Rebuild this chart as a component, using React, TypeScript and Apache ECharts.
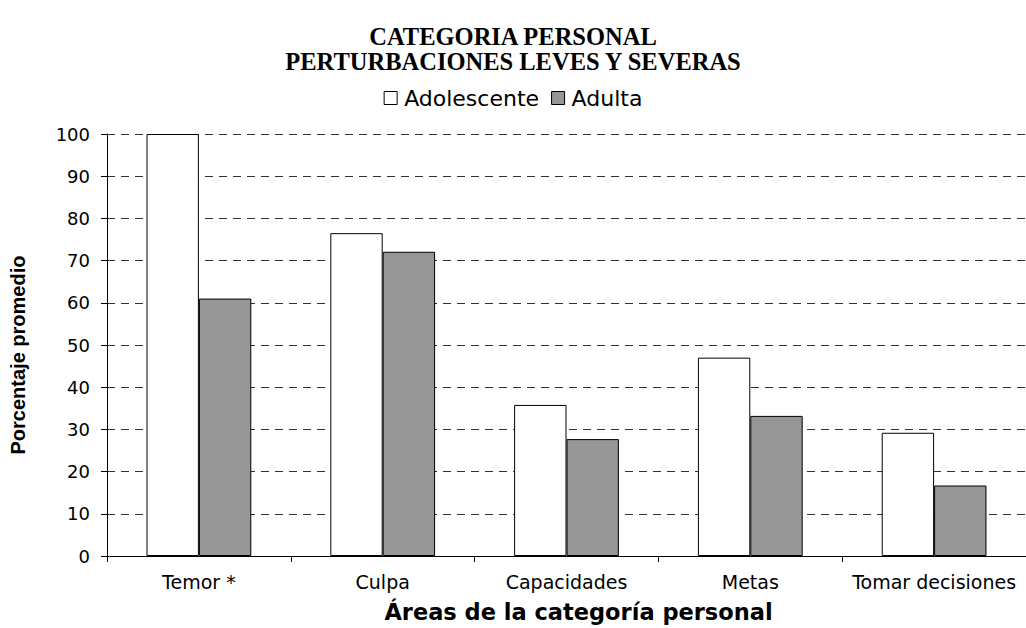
import React, { useEffect, useRef } from "react";
import * as echarts from "echarts";

const categories = ["Temor *", "Culpa", "Capacidades", "Metas", "Tomar decisiones"];
const adolescente = [100, 76.5, 35.8, 47.0, 29.2];
const adulta = [61, 72.1, 27.7, 33.2, 16.7];
const titleLines = ["CATEGORIA PERSONAL", "PERTURBACIONES LEVES Y SEVERAS"];

export default function App() {
  const ref = useRef<HTMLDivElement>(null);
  useEffect(() => {
    if (!ref.current) return;
    const chart = echarts.init(ref.current, null, { renderer: "svg" });
    chart.setOption({
      animation: false,
      backgroundColor: "#ffffff",
      title: {
        text: titleLines.join("\n"),
        left: "center",
        top: 19,
        textStyle: {
          fontFamily: "Liberation Serif",
          fontWeight: "bold",
          fontSize: 24.5,
          lineHeight: 25,
          color: "#000",
        },
      },
      legend: {
        data: ["Adolescente", "Adulta"],
        left: "center",
        top: 82,
        icon: "rect",
        itemWidth: 13,
        itemHeight: 13,
        itemGap: 12,
        itemStyle: { borderColor: "#000", borderWidth: 1 },
        textStyle: {
          fontFamily: "DejaVu Sans",
          fontSize: 22,
          color: "#000",
          padding: [0, 0, 0, 2],
        },
      },
      grid: { left: 107, right: -2, top: 134, bottom: 72, containLabel: false },
      xAxis: {
        type: "category",
        data: categories,
        name: "Áreas de la categoría personal",
        nameLocation: "middle",
        nameGap: 44,
        nameTextStyle: {
          fontFamily: "DejaVu Sans",
          fontWeight: "bold",
          fontSize: 22.5,
          color: "#000",
          padding: [0, 0, 0, 24],
        },
        axisLine: { lineStyle: { color: "#000", width: 1 } },
        axisTick: { show: true, length: 6, lineStyle: { color: "#000" } },
        axisLabel: {
          interval: 0,
          fontFamily: "DejaVu Sans",
          fontSize: 19,
          color: "#000",
          margin: 16,
        },
      },
      yAxis: {
        type: "value",
        min: 0,
        max: 100,
        interval: 10,
        name: "Porcentaje promedio",
        nameLocation: "middle",
        nameGap: 79,
        nameTextStyle: {
          fontFamily: "Liberation Sans",
          fontWeight: "bold",
          fontSize: 20,
          color: "#000",
          padding: [0, 20, 0, 0],
        },
        axisLine: { show: true, lineStyle: { color: "#000", width: 1 } },
        axisTick: { show: true, length: 6, lineStyle: { color: "#000" } },
        axisLabel: { fontFamily: "DejaVu Sans", fontSize: 18, color: "#000", margin: 17 },
        splitLine: { show: true, lineStyle: { color: "#333", type: [8, 6], width: 1 } },
      },
      series: [
        {
          name: "Adolescente",
          type: "bar",
          data: adolescente,
          barGap: "0%",
          barCategoryGap: "43%",
          itemStyle: { color: "#ffffff", borderColor: "#000", borderWidth: 1 },
        },
        {
          name: "Adulta",
          type: "bar",
          data: adulta,
          itemStyle: { color: "#969696", borderColor: "#000", borderWidth: 1 },
        },
      ],
    });
    return () => chart.dispose();
  }, []);
  return (
    <div
      ref={ref}
      style={{ position: "fixed", left: 0, top: 0, width: 1026, height: 628 }}
    />
  );
}
